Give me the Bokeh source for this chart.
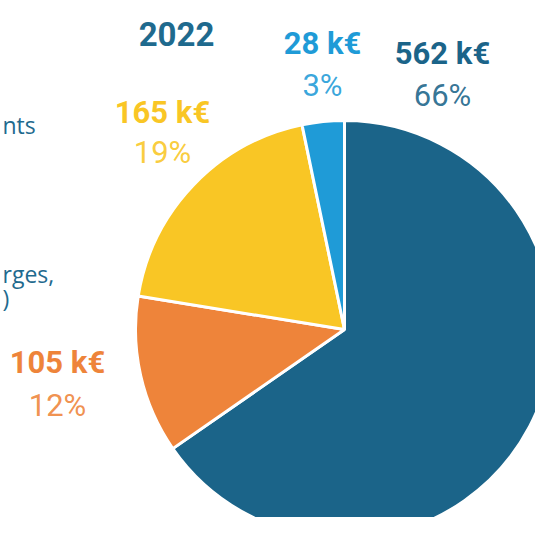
import math
from bokeh.plotting import figure
from bokeh.models import Range1d, ColumnDataSource
from bokeh.core.properties import value
from bokeh.embed import file_html
from bokeh.resources import INLINE

# Data
categories = ["A", "B", "C", "D"]
amounts = [562, 105, 165, 28]          # k€
amount_labels = ["562 k€", "105 k€", "165 k€", "28 k€"]
pct_labels = ["66%", "12%", "19%", "3%"]
colors = ["#1b6489", "#ee843a", "#f9c625", "#1f9bd7"]
year_title = "2022"
legend_fragments = ["nts", "rges,", ")"]

W, H = 535, 517
p = figure(width=W, height=H, output_backend="svg", toolbar_location=None,
           x_range=Range1d(0, W), y_range=Range1d(0, H),
           min_border=0, outline_line_color=None)
p.axis.visible = False
p.grid.visible = False
p.background_fill_color = "white"
p.border_fill_color = "white"

# Pie geometry (pixels)
cx, cy, r = 344, 188, 209
total = sum(amounts)
starts, ends = [], []
a = math.pi / 2
for v in amounts:
    starts.append(a)
    a -= v / total * 2 * math.pi
    ends.append(a)

src = ColumnDataSource(dict(start=starts, end=ends, color=colors))
p.wedge(x=cx, y=cy, radius=r, start_angle="start", end_angle="end",
        direction="clock", fill_color="color", line_color="white",
        line_width=3, source=src)

# Labels
lab_x = [442, 57, 162, 322]
amt_y = [464, 155, 405, 474]
pct_y = [422, 112, 365, 432]
lsrc = ColumnDataSource(dict(x=lab_x, ya=amt_y, yp=pct_y, amt=amount_labels,
                             pct=pct_labels, color=colors))
p.text(x="x", y="ya", text="amt", text_color="color", source=lsrc,
       text_font=value("Roboto"), text_font_style="bold", text_font_size="31px",
       text_align="center", text_baseline="middle")
p.text(x="x", y="yp", text="pct", text_color="color", source=lsrc,
       text_font=value("Roboto"), text_font_size="31px", text_alpha=0.9,
       text_align="center", text_baseline="middle")

# Title
p.text(x=[176], y=[484], text=[year_title], text_color="#1f6a8e",
       text_font=value("Roboto"), text_font_style="bold", text_font_size="33px",
       text_align="center", text_baseline="middle")

# Cropped legend fragments on the left
p.text(x=[2, 2, 2], y=[393, 244, 220], text=legend_fragments,
       text_color="#1f6a8e", text_font=value("Open Sans"), text_font_size="23px",
       text_align="left", text_baseline="middle")

open("out.html", "w").write(file_html(p, INLINE))
